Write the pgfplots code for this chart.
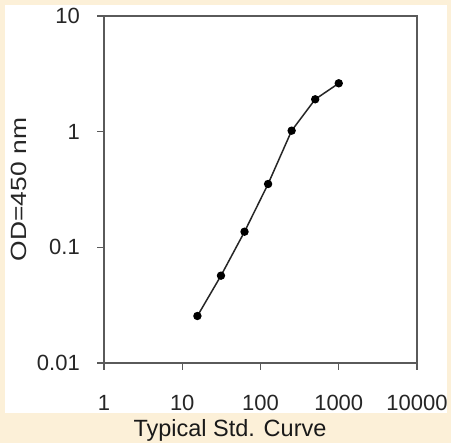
\documentclass[border=0pt]{standalone}
\usepackage{pgfplots}
\pgfplotsset{compat=1.18}
\usepackage{fontspec}
\setmainfont{Liberation Sans}
\newfontfamily\ylabfont[FakeStretch=1.2]{Liberation Sans}

\definecolor{cream}{HTML}{FCF0D8}
\definecolor{axgray}{HTML}{5A5A5A}
\definecolor{curve}{HTML}{262626}

\begin{document}
\begin{tikzpicture}
% panel: cream frame, white card
\fill[cream] (-104bp,-80bp) rectangle (347bp,363bp);
\fill[white] (-99bp,-50bp) rectangle (343bp,358bp);
\begin{axis}[
  at={(0,0)}, anchor=south west,
  scale only axis,
  width=313bp, height=347bp,
  xmode=log, ymode=log,
  xmin=1, xmax=10000,
  ymin=0.01, ymax=10,
  xtick={1,10,100,1000,10000},
  xticklabels={1,10,100,1000,10000},
  ytick={0.01,0.1,1,10},
  yticklabels={0.01,0.1,1,10},
  xminorticks=false, yminorticks=false,
  xtick pos=bottom, ytick pos=left,
  tick align=outside,
  major tick length=7bp,
  axis line style={draw=axgray, line width=1.1bp},
  every tick/.style={draw=axgray, line width=1.1bp},
  /pgf/number format/assume math mode=true,
  ticklabel style={font=\fontsize{22bp}{26bp}\selectfont, text=black!85},
  xticklabel style={anchor=base, inner sep=0pt, yshift=-40.5bp},
  yticklabel style={anchor=east, inner sep=0pt, xshift=-17bp},
  ylabel={OD=450 nm},
  every axis y label/.style={at={(rel axis cs:0,0.5)}, xshift=-85bp,
    rotate=90, anchor=center, inner sep=0pt,
    font=\ylabfont\fontsize{22bp}{26bp}\selectfont, text=black!85},
  clip=false,
]
\addplot[curve, line width=1.5bp, mark=*, mark size=3.4bp,
  mark options={fill=black, draw=black}] coordinates {
  (15.625, 0.0255) (31.25, 0.0569) (62.5, 0.1365) (125, 0.353)
  (250, 1.02) (500, 1.905) (1000, 2.62)
};
\end{axis}
\node[anchor=base, inner sep=0pt, font=\fontsize{23.5bp}{28bp}\selectfont, text=black!90]
  at (126bp,-73.7bp) {Typical Std. Curve};
\pgfresetboundingbox
\path (-104bp,-80bp) rectangle (347bp,363bp);
\end{tikzpicture}
\end{document}
